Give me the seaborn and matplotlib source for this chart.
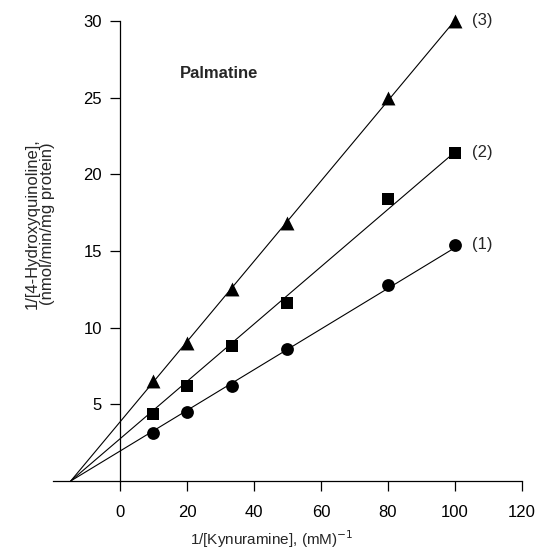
import numpy as np
import pandas as pd
import matplotlib
matplotlib.use("Agg")
import matplotlib.pyplot as plt
import seaborn as sns

# data
inv_substrate = [10, 20, 33.3, 50, 80, 100]
rate_1 = [3.1, 4.5, 6.2, 8.6, 12.8, 15.4]
rate_2 = [4.4, 6.2, 8.8, 11.6, 18.4, 21.4]
rate_3 = [6.5, 9.0, 12.5, 16.8, 25.0, 30.0]
series_labels = ["(1)", "(2)", "(3)"]
markers = ["o", "s", "^"]

# fitted lines: common x-intercept (-1/Km) and the y-intercepts
x_intercept = -14.7
y_intercepts = [1.95, 2.75, 3.85]

sns.set_theme(style="ticks")
plt.rcParams['font.family'] = ['Liberation Sans', 'DejaVu Sans']

fig = plt.figure(figsize=(5.38, 5.54), dpi=100)
ax = fig.add_axes([0.0985, 0.1318, 0.8717, 0.8303])

all_rates = [rate_1, rate_2, rate_3]
for rates, mk, b in zip(all_rates, markers, y_intercepts):
    line_x = np.array([x_intercept, inv_substrate[-1]])
    line_y = b * (1 - line_x / x_intercept)
    sns.lineplot(x=line_x, y=line_y, ax=ax, color="black", linewidth=0.8)
    df = pd.DataFrame({"x": inv_substrate, "y": rates})
    sns.scatterplot(data=df, x="x", y="y", ax=ax, marker=mk, color="black",
                    s=85 if mk != "^" else 100, edgecolor="black", linewidth=0,
                    zorder=3, clip_on=False)

for rates, lab in zip(all_rates, series_labels):
    ax.annotate(lab, xy=(inv_substrate[-1], rates[-1]), xytext=(12, 0),
                textcoords="offset points", fontsize=12, va="center", ha="left")

ax.text(29.5, 26.6, "Palmatine", fontsize=12, fontweight="bold", ha="center", va="center")

ax.set_xlim(-20, 120)
ax.set_ylim(0, 30)
ax.set_xticks([0, 20, 40, 60, 80, 100, 120])
ax.set_yticks([5, 10, 15, 20, 25, 30])
ax.spines['left'].set_position(('data', 0))
ax.spines['top'].set_visible(False)
ax.spines['right'].set_visible(False)
for sp in ['left', 'bottom']:
    ax.spines[sp].set_linewidth(0.9)
    ax.spines[sp].set_color("black")
ax.tick_params(axis="both", direction="out", length=7, width=0.9, labelsize=12,
               colors="black", pad=6)
ax.tick_params(axis="x", pad=10)

ax.set_xlabel("1/[Kynuramine], (mM)$^{-1}$", fontsize=11)
ax.xaxis.set_label_coords(0.467, -0.102)
ax.set_ylabel("")
fig.text(0.074, 0.596, "1/[4-Hydroxyquinoline],\n(nmol/min/mg protein)", rotation=90,
         fontsize=12, ha="center", va="center", linespacing=0.95)

fig.savefig("out.png", dpi=100)
